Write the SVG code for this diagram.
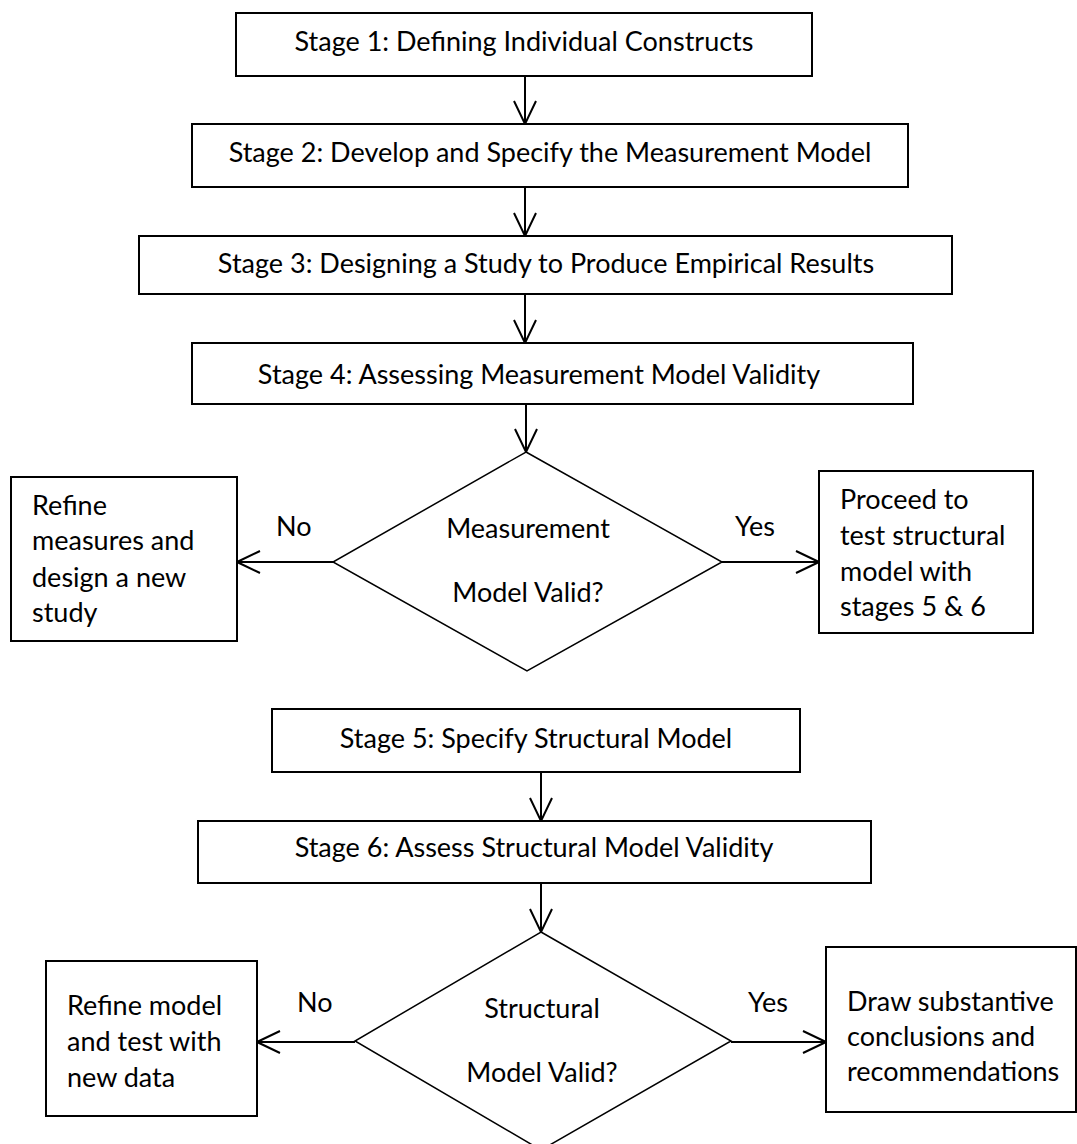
<svg xmlns="http://www.w3.org/2000/svg" width="1077" height="1144" viewBox="0 0 1077 1144">
<style>
  .box { fill: #ffffff; stroke: #000000; stroke-width: 2; }
  .dia { fill: #ffffff; stroke: #000000; stroke-width: 1.5; }
  .t { font-family: Lato, "Open Sans", "Liberation Sans", sans-serif; font-size: 27px; fill: #000000; }
  .c { text-anchor: middle; }
  .con { fill: none; stroke: #000000; stroke-width: 2; marker-end: url(#arr); }
</style>
<defs>
  <marker id="arr" markerUnits="userSpaceOnUse" viewBox="-26 -14 28 28" markerWidth="28" markerHeight="28" refX="0" refY="0" orient="auto">
    <path d="M -23 -11 L 0 0 L -23 11" fill="none" stroke="#000000" stroke-width="2"/>
  </marker>
</defs>
<rect width="1077" height="1144" fill="#ffffff"/>

<g id="connectors">
  <line class="con" x1="525" y1="76" x2="525" y2="124"/>
  <line class="con" x1="525" y1="187" x2="525" y2="236"/>
  <line class="con" x1="525" y1="294" x2="525" y2="343"/>
  <line class="con" x1="526" y1="404" x2="526" y2="452"/>
  <line class="con" x1="333" y1="562" x2="237" y2="562"/>
  <line class="con" x1="722" y1="562" x2="819" y2="562"/>
  <line class="con" x1="541" y1="772" x2="541" y2="821"/>
  <line class="con" x1="541" y1="883" x2="541" y2="932"/>
  <line class="con" x1="355" y1="1042" x2="257" y2="1042"/>
  <line class="con" x1="731" y1="1042" x2="826" y2="1042"/>
  <text class="t" x="276" y="536">No</text>
  <text class="t" x="735" y="536">Yes</text>
  <text class="t" x="297" y="1012">No</text>
  <text class="t" x="748" y="1012">Yes</text>
</g>

<g id="stage1">
  <rect class="box" x="236" y="13" width="576" height="63"/>
  <text class="t c" x="524" y="51">Stage 1: Defining Individual Constructs</text>
</g>
<g id="stage2">
  <rect class="box" x="192" y="124" width="716" height="63"/>
  <text class="t c" x="550" y="162">Stage 2: Develop and Specify the Measurement Model</text>
</g>
<g id="stage3">
  <rect class="box" x="139" y="236" width="813" height="58"/>
  <text class="t c" x="546" y="273">Stage 3: Designing a Study to Produce Empirical Results</text>
</g>
<g id="stage4">
  <rect class="box" x="192" y="343" width="721" height="61"/>
  <text class="t c" x="539" y="384">Stage 4: Assessing Measurement Model Validity</text>
</g>
<g id="decision1">
  <polygon class="dia" points="526,452 722,562 527,671 333,562"/>
  <text class="t c" x="528" y="538">Measurement</text>
  <text class="t c" x="528" y="602">Model Valid?</text>
</g>
<g id="refine1">
  <rect class="box" x="11" y="477" width="226" height="164"/>
  <text class="t" x="32" y="515">Refine</text>
  <text class="t" x="32" y="550">measures and</text>
  <text class="t" x="32" y="587">design a new</text>
  <text class="t" x="32" y="622">study</text>
</g>
<g id="proceed">
  <rect class="box" x="819" y="471" width="214" height="162"/>
  <text class="t" x="840" y="509">Proceed to</text>
  <text class="t" x="840" y="545">test structural</text>
  <text class="t" x="840" y="581">model with</text>
  <text class="t" x="840" y="616">stages 5 &amp; 6</text>
</g>
<g id="stage5">
  <rect class="box" x="272" y="709" width="528" height="63"/>
  <text class="t c" x="536" y="748">Stage 5: Specify Structural Model</text>
</g>
<g id="stage6">
  <rect class="box" x="198" y="821" width="673" height="62"/>
  <text class="t c" x="534" y="857">Stage 6: Assess Structural Model Validity</text>
</g>
<g id="decision2">
  <polygon class="dia" points="541,932 731,1041 541,1150 355,1041"/>
  <text class="t c" x="542" y="1018">Structural</text>
  <text class="t c" x="542" y="1082">Model Valid?</text>
</g>
<g id="refine2">
  <rect class="box" x="46" y="961" width="211" height="155"/>
  <text class="t" x="67" y="1015">Refine model</text>
  <text class="t" x="67" y="1051">and test with</text>
  <text class="t" x="67" y="1087">new data</text>
</g>
<g id="conclude">
  <rect class="box" x="826" y="947" width="250" height="165"/>
  <text class="t" x="847" y="1011">Draw substantive</text>
  <text class="t" x="847" y="1046">conclusions and</text>
  <text class="t" x="847" y="1081">recommendations</text>
</g>
</svg>
